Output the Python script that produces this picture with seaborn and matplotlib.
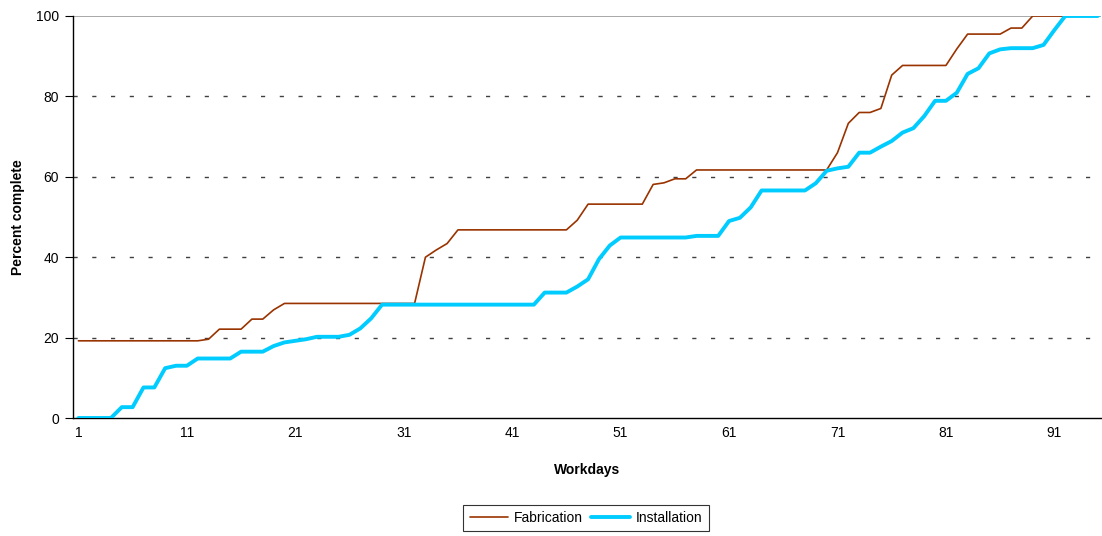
import matplotlib
matplotlib.use("Agg")
import matplotlib.pyplot as plt
import seaborn as sns
import pandas as pd

# Cumulative progress per workday
workdays = list(range(1, 96))

fabrication = [
    19.2, 19.2, 19.2, 19.2, 19.2, 19.2, 19.2, 19.2, 19.2, 19.2,
    19.2, 19.2, 19.6, 22.1, 22.1, 22.1, 24.6, 24.6, 26.9, 28.5,
    28.5, 28.5, 28.5, 28.5, 28.5, 28.5, 28.5, 28.5, 28.5, 28.5,
    28.5, 28.5, 40.0, 41.8, 43.4, 46.8, 46.8, 46.8, 46.8, 46.8,
    46.8, 46.8, 46.8, 46.8, 46.8, 46.8, 49.2, 53.2, 53.2, 53.2,
    53.2, 53.2, 53.2, 58.1, 58.5, 59.5, 59.5, 61.7, 61.7, 61.7,
    61.7, 61.7, 61.7, 61.7, 61.7, 61.7, 61.7, 61.7, 61.7, 61.7,
    66.0, 73.3, 76.0, 76.0, 77.0, 85.3, 87.7, 87.7, 87.7, 87.7,
    87.7, 91.8, 95.5, 95.5, 95.5, 95.5, 97.0, 97.0, 100.0, 100.0,
    100.0, 100.0, 100.0, 100.0, 100.0,
]

installation = [
    0.0, 0.0, 0.0, 0.0, 2.7, 2.7, 7.6, 7.6, 12.4, 13.0,
    13.0, 14.8, 14.8, 14.8, 14.8, 16.5, 16.5, 16.5, 17.9, 18.8,
    19.2, 19.6, 20.2, 20.2, 20.2, 20.7, 22.3, 24.8, 28.2, 28.2,
    28.2, 28.2, 28.2, 28.2, 28.2, 28.2, 28.2, 28.2, 28.2, 28.2,
    28.2, 28.2, 28.2, 31.2, 31.2, 31.2, 32.7, 34.5, 39.5, 42.9,
    44.9, 44.9, 44.9, 44.9, 44.9, 44.9, 44.9, 45.3, 45.3, 45.3,
    49.0, 49.8, 52.4, 56.6, 56.6, 56.6, 56.6, 56.6, 58.4, 61.5,
    62.1, 62.5, 66.0, 66.0, 67.5, 68.9, 71.0, 72.1, 75.1, 78.9,
    78.9, 80.9, 85.6, 87.0, 90.7, 91.7, 92.0, 92.0, 92.0, 92.8,
    96.5, 100.0, 100.0, 100.0, 100.0,
]

series_names = ["Fabrication", "Installation"]
series_colors = {"Fabrication": "#993300", "Installation": "#00CCFF"}
series_widths = {"Fabrication": 1.2, "Installation": 2.8}

x_labels = [1, 11, 21, 31, 41, 51, 61, 71, 81, 91]
y_ticks = [0, 20, 40, 60, 80, 100]

df = pd.DataFrame({
    "Workdays": workdays * 2,
    "Percent complete": fabrication + installation,
    "Series": ["Fabrication"] * len(workdays) + ["Installation"] * len(workdays),
})

sns.set_style("white")
plt.rcParams["font.family"] = ["Liberation Sans", "DejaVu Sans"]
plt.rcParams["text.color"] = "black"
plt.rcParams["axes.labelcolor"] = "black"
plt.rcParams["xtick.color"] = "black"
plt.rcParams["ytick.color"] = "black"

W, H = 1102, 536
fig = plt.figure(figsize=(W / 100, H / 100), dpi=100)
ax = fig.add_axes([73 / W, 1 - 418 / H, (1101 - 73) / W, (418 - 16) / H])

for name in series_names:
    sub = df[df["Series"] == name]
    sns.lineplot(data=sub, x="Workdays", y="Percent complete", ax=ax,
                 color=series_colors[name], linewidth=series_widths[name],
                 label=name, zorder=3)

ax.set_xlim(0.5, len(workdays) + 0.3)
ax.set_ylim(0, 100)

# gridlines
for v in y_ticks[1:-1]:
    ax.axhline(v, color="#404040", linewidth=1.0, linestyle=(0, (3, 10.5)), zorder=1)
ax.axhline(100, color="#999999", linewidth=1.2, zorder=1)

# x axis: tick marks on category boundaries, labels on categories
ax.set_xticks([v - 0.5 for v in x_labels], minor=True)
ax.set_xticks(x_labels)
ax.set_xticklabels([str(v) for v in x_labels], fontsize=10)
ax.tick_params(axis="x", which="major", length=0, pad=6)
ax.tick_params(axis="x", which="minor", length=5, width=0.8, color="black", direction="out")

ax.set_yticks(y_ticks)
ax.set_yticklabels([str(v) for v in y_ticks], fontsize=10)
ax.tick_params(axis="y", length=6, width=0.8, color="black", direction="out", pad=4, left=True)

for side in ["top", "right"]:
    ax.spines[side].set_visible(False)
for side in ["left", "bottom"]:
    ax.spines[side].set_color("black")
    ax.spines[side].set_linewidth(1.0)

ax.set_xlabel("Workdays", fontsize=10, fontweight="bold", labelpad=16)
ax.set_ylabel("Percent complete", fontsize=10, fontweight="bold", labelpad=8)

leg = ax.legend(loc="center", bbox_to_anchor=(586 / W, 1 - 518 / H),
                bbox_transform=fig.transFigure, ncol=2, frameon=True,
                fancybox=False, edgecolor="black", fontsize=10,
                handlelength=2.8, handletextpad=0.4, columnspacing=0.6,
                borderpad=0.45)
leg.get_frame().set_linewidth(0.8)

fig.savefig("out.png", dpi=100, facecolor="white")
